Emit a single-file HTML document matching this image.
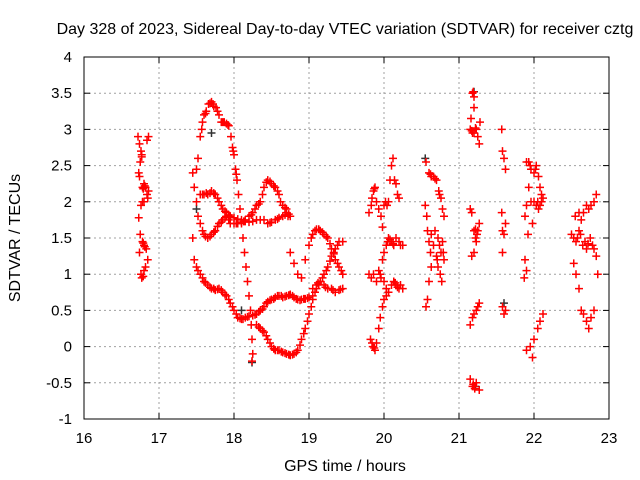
<!DOCTYPE html>
<html><head><meta charset="utf-8"><style>
body{margin:0;background:#fff}
svg{display:block;font-family:"Liberation Sans",sans-serif}
</style></head><body>
<svg id="chart" width="640" height="480">
<text x="345" y="34" font-size="16" text-anchor="middle">Day 328 of 2023, Sidereal Day-to-day VTEC variation (SDTVAR) for receiver cztg</text>
<text x="345" y="471" font-size="16" text-anchor="middle">GPS time / hours</text>
<text x="20" y="238" font-size="16" text-anchor="middle" transform="rotate(-90 20 238)">SDTVAR / TECUs</text>
<g id="grid"></g>
<g id="axes"></g>
<g id="marks"></g>
<rect x="84" y="57" width="525" height="362" fill="none" stroke="#000" stroke-width="1"/>
</svg>
<script>
const xTicks=[16,17,18,19,20,21,22,23];
const yTicks=[-1,-0.5,0,0.5,1,1.5,2,2.5,3,3.5,4];
const yTickLabels=["-1","-0.5","0","0.5","1","1.5","2","2.5","3","3.5","4"];
const clusterA=[[16.72,2.9],[16.74,2.8],[16.76,2.7],[16.77,2.65],[16.75,2.55],[16.73,2.4],[16.74,2.35],[16.78,2.2],[16.8,2.25],[16.82,2.2],[16.84,2.1],[16.8,2.0],[16.76,1.95],[16.73,1.78],[16.75,1.55],[16.78,1.45],[16.8,1.4],[16.83,1.35],[16.74,1.3],[16.85,1.2],[16.82,1.1],[16.8,1.05],[16.76,1.0],[16.77,0.95],[16.86,2.9],[16.84,2.85],[16.86,2.15],[16.85,2.05],[16.79,1.43],[16.79,2.18],[16.81,2.22],[16.78,2.0],[16.79,0.97],[16.81,1.38],[16.77,2.62]];
const arch=[[17.45,2.4],[17.47,2.2],[17.5,2.45],[17.52,2.6],[17.55,2.9],[17.58,3.1],[17.6,3.2],[17.63,3.25],[17.66,3.35],[17.7,3.38],[17.73,3.32],[17.76,3.3],[17.8,3.2],[17.83,3.1],[17.87,3.1],[17.9,3.08],[17.93,3.05],[17.96,2.9],[17.98,2.75],[18.0,2.65],[18.02,2.45],[18.04,2.3],[18.06,2.1],[18.08,1.9],[18.1,1.7],[18.12,1.5],[18.14,1.3],[18.16,1.1],[18.18,0.9],[18.2,0.7],[18.22,0.5],[18.23,0.3],[18.24,0.1],[18.25,-0.1],[18.24,-0.2],[17.57,3.0],[17.62,3.22],[17.68,3.36],[17.72,3.35],[17.78,3.25],[17.85,3.1],[17.92,3.06],[17.99,2.7],[18.03,2.38]];
const lowerLoop=[[17.45,1.5],[17.47,1.2],[17.5,1.1],[17.55,1.0],[17.6,0.9],[17.65,0.85],[17.7,0.8],[17.75,0.78],[17.8,0.8],[17.85,0.75],[17.9,0.7],[17.95,0.6],[18.0,0.5],[18.05,0.4],[18.1,0.38],[18.15,0.4],[18.2,0.42],[18.25,0.43],[18.3,0.45],[18.35,0.5],[18.4,0.55],[18.45,0.62],[18.5,0.65],[18.55,0.68],[18.6,0.7],[18.65,0.68],[18.7,0.7],[18.75,0.72],[18.8,0.68],[18.85,0.65],[18.9,0.65],[18.95,0.66],[19.0,0.68],[19.05,0.7],[17.52,1.05],[17.58,0.95],[17.62,0.88],[17.68,0.82],[17.73,0.8],[17.78,0.79],[17.83,0.78],[17.88,0.72],[17.93,0.65],[17.98,0.55],[18.03,0.45],[18.08,0.39],[18.12,0.38],[18.18,0.41],[18.28,0.44],[18.33,0.48],[18.38,0.52],[18.43,0.6],[18.48,0.64],[18.53,0.66],[18.58,0.7],[18.63,0.7],[18.68,0.69],[18.73,0.71],[18.78,0.7],[18.83,0.66],[18.88,0.64],[18.93,0.66],[18.98,0.67]];
const upperA=[[17.5,2.0],[17.52,1.8],[17.55,1.7],[17.58,1.6],[17.6,1.55],[17.65,1.5],[17.7,1.55],[17.75,1.6],[17.8,1.7],[17.85,1.75],[17.9,1.8],[17.95,1.7],[18.0,1.7],[18.05,1.7],[18.1,1.72],[18.15,1.75],[18.2,1.8],[18.25,1.85],[18.3,1.95],[18.35,2.0],[18.38,2.1],[18.4,2.2],[18.45,2.3],[18.5,2.25],[18.55,2.2],[18.6,2.1],[18.62,2.0],[18.65,1.95],[18.7,1.9],[18.72,1.8],[17.62,1.52],[17.68,1.52],[17.73,1.58],[17.78,1.66],[17.83,1.72],[17.88,1.78],[17.93,1.75],[18.03,1.7],[18.13,1.73],[18.23,1.82],[18.28,1.9],[18.33,1.97],[18.43,2.27],[18.48,2.28],[18.53,2.22],[18.58,2.15],[18.68,1.92]];
const upperB=[[17.55,2.1],[17.6,2.1],[17.65,2.1],[17.7,2.15],[17.75,2.1],[17.8,2.0],[17.85,1.9],[17.9,1.85],[17.95,1.8],[18.0,1.78],[18.1,1.75],[18.2,1.72],[18.3,1.75],[18.4,1.75],[18.45,1.7],[18.5,1.72],[18.55,1.75],[18.6,1.78],[18.65,1.8],[18.7,1.85],[18.75,1.8],[17.58,2.1],[17.63,2.12],[17.68,2.12],[17.73,2.12],[17.78,2.05],[17.83,1.95],[17.88,1.87],[17.93,1.82],[18.05,1.76],[18.15,1.73],[18.25,1.73],[18.35,1.75],[18.48,1.71],[18.58,1.76],[18.68,1.82],[18.73,1.83]];
const uCurve=[[18.3,0.3],[18.35,0.25],[18.4,0.2],[18.45,0.1],[18.5,0.0],[18.55,-0.05],[18.6,-0.05],[18.65,-0.08],[18.7,-0.1],[18.75,-0.12],[18.8,-0.1],[18.85,-0.05],[18.9,0.1],[18.95,0.25],[19.0,0.45],[19.05,0.65],[19.1,0.8],[19.15,0.9],[19.2,1.0],[19.25,1.1],[19.3,1.25],[19.35,1.35],[19.4,1.45],[19.45,1.45],[18.33,0.27],[18.38,0.22],[18.43,0.15],[18.48,0.05],[18.53,-0.03],[18.58,-0.05],[18.63,-0.07],[18.68,-0.09],[18.73,-0.11],[18.78,-0.11],[18.83,-0.08],[18.88,0.02],[18.93,0.18],[18.98,0.35],[19.03,0.55],[19.08,0.75],[19.13,0.86],[19.18,0.95],[19.23,1.05],[19.28,1.18],[19.33,1.3],[19.38,1.4]];
const hump=[[18.75,1.3],[18.8,1.15],[18.85,1.0],[18.9,0.95],[18.95,1.2],[19.0,1.4],[19.05,1.55],[19.1,1.62],[19.15,1.6],[19.2,1.55],[19.25,1.5],[19.3,1.35],[19.35,1.2],[19.4,1.1],[19.45,1.0],[19.05,0.8],[19.1,0.85],[19.15,0.9],[19.2,0.85],[19.25,0.8],[19.3,0.8],[19.35,0.75],[19.4,0.78],[19.45,0.8],[19.03,1.5],[19.08,1.6],[19.13,1.62],[19.18,1.58],[19.23,1.52],[19.28,1.42],[19.33,1.28],[19.38,1.15],[19.43,1.05],[19.12,0.88],[19.22,0.82],[19.32,0.78],[19.42,0.79]];
const cluster20=[[19.8,1.85],[19.83,1.95],[19.86,2.15],[19.88,2.2],[19.9,2.0],[19.93,1.9],[19.96,1.8],[19.98,1.65],[20.0,1.95],[20.02,2.0],[20.04,1.95],[20.06,2.0],[20.08,2.3],[20.1,2.5],[20.12,2.6],[20.14,2.3],[20.16,2.25],[20.18,2.1],[20.2,2.05],[19.95,1.0],[19.98,1.2],[20.0,1.3],[20.03,1.4],[20.06,1.5],[20.1,1.45],[20.13,1.4],[20.16,1.5],[20.2,1.45],[20.22,1.4],[20.25,1.4],[19.8,1.0],[19.83,0.95],[19.86,1.0],[19.9,0.9],[19.93,1.05],[19.96,0.95],[20.0,0.9],[20.03,0.8],[20.06,0.75],[20.1,0.85],[20.13,0.9],[20.16,0.85],[20.2,0.8],[20.22,0.85],[20.25,0.8],[19.82,0.1],[19.85,0.0],[19.88,-0.05],[19.9,0.05],[19.93,0.25],[19.95,0.4],[19.98,0.55],[20.0,0.65],[20.03,0.7],[20.06,0.75],[19.84,2.05],[19.87,2.18],[20.05,1.45],[20.08,1.48],[20.12,1.42],[20.15,0.88],[20.18,0.82],[19.84,0.05],[19.87,-0.02]];
const cluster20b=[[20.56,2.55],[20.6,2.4],[20.63,2.35],[20.66,2.35],[20.7,2.3],[20.73,2.15],[20.76,2.05],[20.78,1.9],[20.8,1.8],[20.55,1.95],[20.57,1.8],[20.58,1.6],[20.6,1.45],[20.62,1.3],[20.63,1.1],[20.6,0.9],[20.58,0.65],[20.56,0.55],[20.63,1.55],[20.66,1.4],[20.7,1.25],[20.72,1.1],[20.75,1.0],[20.77,0.9],[20.68,1.6],[20.72,1.5],[20.76,1.3],[20.8,1.2],[20.78,1.45],[20.62,2.38],[20.68,2.32],[20.74,2.1],[20.71,1.2],[20.74,1.4],[20.79,1.3]];
const cluster21=[[21.18,3.5],[21.2,3.45],[21.2,3.3],[21.16,3.15],[21.15,3.0],[21.18,2.95],[21.2,2.95],[21.23,3.0],[21.25,2.9],[21.27,2.8],[21.28,3.1],[21.15,1.9],[21.17,1.85],[21.2,1.6],[21.22,1.5],[21.25,1.6],[21.27,1.7],[21.23,1.45],[21.2,1.3],[21.17,1.25],[21.15,0.3],[21.18,0.4],[21.2,0.45],[21.23,0.5],[21.27,0.6],[21.15,-0.45],[21.18,-0.55],[21.2,-0.55],[21.23,-0.5],[21.27,-0.6],[21.57,3.0],[21.58,2.7],[21.6,2.6],[21.62,2.45],[21.57,1.85],[21.58,1.6],[21.6,1.55],[21.62,1.7],[21.58,1.3],[21.58,0.55],[21.62,0.5],[21.6,0.45],[21.19,3.52],[21.17,2.98],[21.22,3.02],[21.24,1.55],[21.22,1.62],[21.19,-0.52],[21.21,-0.58],[21.25,0.55]];
const cluster22=[[21.9,2.55],[21.93,2.55],[21.96,2.45],[22.0,2.4],[22.03,2.5],[22.06,2.35],[22.08,2.2],[22.1,2.1],[21.88,1.8],[21.9,1.95],[21.93,2.2],[21.96,2.0],[22.0,2.0],[22.03,1.95],[22.06,1.9],[22.1,2.0],[21.98,1.7],[21.92,1.55],[21.88,1.2],[21.9,1.05],[21.87,0.95],[21.9,-0.05],[21.95,0.0],[21.98,-0.15],[22.0,0.1],[22.05,0.25],[22.08,0.35],[22.12,0.45],[22.5,1.55],[22.53,1.5],[22.56,1.45],[22.6,1.6],[22.63,1.75],[22.66,1.85],[22.7,1.95],[22.73,1.9],[22.76,1.95],[22.8,2.0],[22.83,2.1],[22.55,1.8],[22.6,1.85],[22.53,1.15],[22.56,1.0],[22.6,0.8],[22.63,0.5],[22.66,0.45],[22.7,0.35],[22.73,0.25],[22.76,0.4],[22.8,0.5],[22.65,1.4],[22.7,1.35],[22.75,1.5],[22.8,1.35],[22.83,1.25],[22.85,1.0],[21.95,2.5],[22.02,2.45],[22.05,2.0],[22.08,1.95],[22.12,2.05],[22.58,1.5],[22.62,1.55],[22.68,1.45],[22.72,1.42],[22.78,1.4]];
const darkPoints=[[17.5,1.9],[17.7,2.95],[18.24,-0.22],[18.1,0.5],[21.22,-0.55],[21.6,0.6],[20.55,2.6],[21.2,3.52]];

const NS="http://www.w3.org/2000/svg";
const X0=84,X1=609,Y0=419,Y1=57;
function sx(t){return X0+(t-16)/(23-16)*(X1-X0);}
function sy(v){return Y0-(v-(-1))/(4-(-1))*(Y0-Y1);}
function mk(tag,attrs,parent){const e=document.createElementNS(NS,tag);for(const k in attrs)e.setAttribute(k,attrs[k]);parent.appendChild(e);return e;}
const grid=document.getElementById('grid'),axes=document.getElementById('axes'),marks=document.getElementById('marks');
xTicks.forEach((t,i)=>{
  const x=sx(t);
  if(i>0&&i<xTicks.length-1){const g=mk('line',{x1:x,x2:x,y1:Y0,y2:Y1,stroke:'#a0a0a0','stroke-dasharray':'2,3'},grid);
  
  }
  mk('line',{x1:x,x2:x,y1:Y0,y2:Y0-6,stroke:'#000'},axes);
  mk('line',{x1:x,x2:x,y1:Y1,y2:Y1+6,stroke:'#000'},axes);
  const tx=mk('text',{x:x,y:Y0+24,'font-size':15,'text-anchor':'middle'},axes);tx.textContent=String(t);
  
  
});
yTicks.forEach((v,i)=>{
  const y=sy(v);
  if(i>0&&i<yTicks.length-1){const g=mk('line',{x1:X0,x2:X1,y1:y,y2:y,stroke:'#a0a0a0','stroke-dasharray':'2,3'},grid);
  
  }
  mk('line',{x1:X0,x2:X0+6,y1:y,y2:y,stroke:'#000'},axes);
  mk('line',{x1:X1,x2:X1-6,y1:y,y2:y,stroke:'#000'},axes);
  const tx=mk('text',{x:X0-12,y:y+5,'font-size':15,'text-anchor':'end'},axes);tx.textContent=yTickLabels[i];
  
  
});
function plus(p,color){
  const x=sx(p[0]),y=sy(p[1]);
  const e=mk('path',{d:`M${x-4},${y}H${x+4}M${x},${y-4}V${y+4}`,stroke:color,'stroke-width':1.5,fill:'none'},marks);
  
  
}
darkPoints.forEach(p=>plus(p,'#333'));
[clusterA,arch,lowerLoop,upperA,upperB,uCurve,hump,cluster20,cluster20b,cluster21,cluster22].forEach(s=>s.forEach(p=>plus(p,'#ff0000')));
</script>
</body></html>
